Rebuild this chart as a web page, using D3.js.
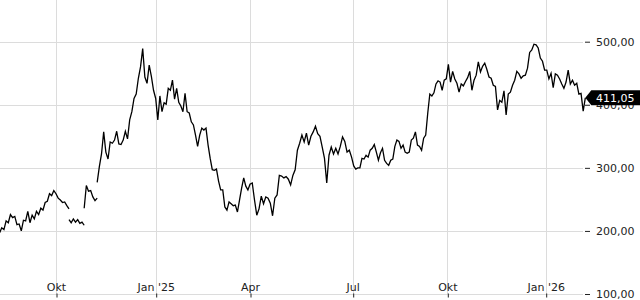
<!DOCTYPE html>
<html>
<head>
<meta charset="utf-8">
<script src="https://d3js.org/d3.v7.min.js"></script>
<style>
  body { margin:0; background:#fff; font-family: "DejaVu Sans", sans-serif; }
</style>
</head>
<body>
<script>
var width = 640, height = 300;
var plotRight = 583, plotBottom = 294;

// quarter ticks on the time axis
var tickDates = ["2024-10-01", "2025-01-01", "2025-04-01", "2025-07-01", "2025-10-01", "2026-01-01"];
var tickLabels = ["Okt", "Jan '25", "Apr", "Jul", "Okt", "Jan '26"];
var yTicks = [100, 200, 300, 400, 500];
var lastPrice = 411.05;

// price every 2 days, split where the source series has breaks
var stepDays = 2;
var seg1Start = "2024-08-10";
var seg1 = [197, 205, 202, 216, 213, 226, 221, 223, 210, 211, 200, 217, 216, 231, 213, 225, 219,
            231, 226, 236, 233, 245, 247, 259, 256, 264, 259, 252, 249, 245, 246, 240, 235];
var seg2Start = "2024-10-13";
var seg2 = [218, 213, 219, 214, 218, 212, 214, 209];
var seg3Start = "2024-10-27";
var seg3 = [236, 272, 263, 264, 254, 248, 252];
var seg4Start = "2024-11-08";
var seg4 = [
  277, 302, 322, 357, 325, 314, 341, 339, 344, 358, 338, 337,                 // Nov
  344, 358, 346, 376, 389, 410, 417, 442, 460, 489, 444, 434, 463, 445, 423,  // Dez
  410, 376, 414, 389, 403, 401, 426, 423, 439, 409, 426, 404, 398, 389, 418, 389, // Jan '25
  387, 373, 368, 352, 334, 352, 363, 360, 363, 336, 315, 297, 296, 298,       // Feb
  279, 265, 265, 238, 233, 246, 243, 240, 241, 230, 249, 268, 284, 271, 265,  // Mar
  274, 276, 249, 225, 235, 255, 243, 254, 252, 244, 224, 252, 257, 288, 287,  // Apr
  284, 286, 282, 273, 288, 297, 328, 339, 352, 341, 355, 336, 350, 357, 366, 354, // Mai
  350, 333, 315, 276, 320, 333, 322, 331, 322, 334, 349, 342, 325, 328, 317,  // Jun
  303, 298, 300, 300, 315, 314, 320, 317, 328, 331, 337, 325, 312, 324, 331,  // Jul
  312, 307, 304, 312, 314, 334, 344, 342, 331, 336, 325, 323, 325, 344, 347, 357, // Aug
  336, 334, 328, 347, 352, 387, 417, 414, 419, 433, 438, 436, 423, 439, 441,  // Sep
  464, 436, 453, 441, 434, 420, 433, 430, 437, 443, 453, 423, 439, 447, 468,  // Okt
  452, 461, 466, 456, 444, 442, 431, 429, 392, 407, 404, 422, 384, 417, 420,  // Nov
  431, 439, 453, 449, 442, 446, 447, 458, 483, 487, 496, 495, 490, 474, 469, 455, // Dez
  455, 441, 450, 427, 449, 447, 441, 433, 426, 436, 455, 433, 439, 431, 434,  // Jan '26
  417, 418, 390, 411.05                                                        // Feb
];

var parse = d3.timeParse("%Y-%m-%d");

function toPoints(start, values) {
  var d0 = parse(start);
  return values.map(function(v, i) {
    return { date: d3.timeDay.offset(d0, i * stepDays), value: v };
  });
}

var segments = [
  toPoints(seg1Start, seg1),
  toPoints(seg2Start, seg2),
  toPoints(seg3Start, seg3),
  toPoints(seg4Start, seg4)
];

// quarters are not equally wide on this chart (trading days), so piecewise domain
var x = d3.scaleTime()
  .domain([parse("2024-08-10")].concat(tickDates.map(parse)).concat([parse("2026-02-11")]))
  .range([-0.4, 56, 155.7, 250, 352.7, 447.3, 545.7, 589.6]);

var y = d3.scaleLinear()
  .domain([100, 500])
  .range([plotBottom, 41.7]);

var svg = d3.select("body").append("svg")
  .attr("width", width)
  .attr("height", height)
  .style("display", "block");

// grid
svg.append("g")
  .selectAll("line")
  .data(yTicks)
  .enter().append("line")
  .attr("x1", 0).attr("x2", plotRight)
  .attr("y1", function(d) { return Math.round(y(d)) + 0.5; })
  .attr("y2", function(d) { return Math.round(y(d)) + 0.5; })
  .attr("stroke", "#dcdcdc");

svg.append("g")
  .selectAll("line")
  .data(tickDates.map(parse))
  .enter().append("line")
  .attr("x1", function(d) { return Math.round(x(d)) + 0.5; })
  .attr("x2", function(d) { return Math.round(x(d)) + 0.5; })
  .attr("y1", 0).attr("y2", plotBottom)
  .attr("stroke", "#dcdcdc");

// x axis ticks + labels
var fmtLabel = {};
tickDates.forEach(function(t, i) { fmtLabel[+parse(t)] = tickLabels[i]; });

var xAxis = d3.axisBottom(x)
  .tickValues(tickDates.map(parse))
  .tickFormat(function(d) { return fmtLabel[+d]; })
  .tickSize(4)
  .tickSizeOuter(0);

var gx = svg.append("g")
  .attr("transform", "translate(0," + (plotBottom - 0.5) + ")")
  .call(xAxis);
gx.select(".domain").remove();
gx.selectAll(".tick line").attr("stroke", "#222").attr("transform", "translate(0.5,0)");
gx.selectAll("text")
  .attr("y", -3)
  .attr("dy", 0)
  .attr("fill", "#222")
  .style("font-family", "DejaVu Sans")
  .style("font-size", "11px");

// y axis on the right
var yAxis = d3.axisRight(y)
  .tickValues(yTicks)
  .tickFormat(function(d) { return d3.format(".2f")(d).replace(".", ","); })
  .tickSize(5)
  .tickPadding(6);

var gy = svg.append("g")
  .attr("transform", "translate(" + (plotRight + 2) + ",0)")
  .call(yAxis);
gy.select(".domain").remove();
gy.selectAll(".tick line").attr("stroke", "#222");
gy.selectAll("text")
  .attr("fill", "#222")
  .style("font-family", "DejaVu Sans")
  .style("font-size", "11px");

// price line
var line = d3.line()
  .x(function(d) { return x(d.date); })
  .y(function(d) { return y(d.value); });

svg.append("g")
  .selectAll("path")
  .data(segments)
  .enter().append("path")
  .attr("d", line)
  .attr("fill", "none")
  .attr("stroke", "#000")
  .attr("stroke-width", 1.3);

// last price marker, drawn over the 400,00 label like the original
var last = segments[3][segments[3].length - 1];
var ly = y(last.value);
var lx = x(last.date);
svg.append("path")
  .attr("d", "M" + lx + "," + ly + "L" + (lx + 6) + "," + (ly - 7.5) + "H" + width +
             "V" + (ly + 7.5) + "H" + (lx + 6) + "Z")
  .attr("fill", "#000");
svg.append("text")
  .attr("x", plotRight + 13)
  .attr("y", ly + 4)
  .attr("fill", "#fff")
  .style("font-family", "DejaVu Sans")
  .style("font-size", "11px")
  .text(d3.format(".2f")(lastPrice).replace(".", ","));
</script>
</body>
</html>
